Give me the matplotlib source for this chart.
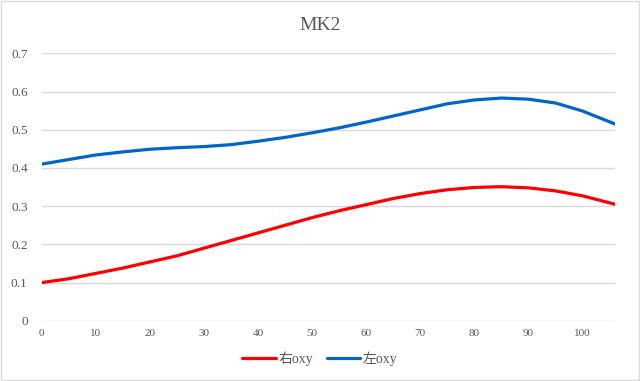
import matplotlib
matplotlib.use('Agg')
import matplotlib.pyplot as plt
from matplotlib.patches import Rectangle

# values
x = [0, 5, 10, 15, 20, 25, 30, 35, 40, 45, 50, 55, 60, 65, 70, 75, 80, 85, 90, 95, 100, 106]
right_oxy = [0.100, 0.110, 0.124, 0.138, 0.154, 0.170, 0.190, 0.210, 0.230, 0.250, 0.270,
             0.288, 0.304, 0.320, 0.333, 0.343, 0.349, 0.351, 0.348, 0.340, 0.327, 0.305]
left_oxy = [0.410, 0.422, 0.434, 0.442, 0.449, 0.453, 0.456, 0.461, 0.470, 0.480, 0.492,
            0.505, 0.520, 0.536, 0.552, 0.568, 0.578, 0.583, 0.580, 0.570, 0.549, 0.515]
labels = ['右oxy', '左oxy']
xticks = list(range(0, 101, 10))
yticks = [0, 0.1, 0.2, 0.3, 0.4, 0.5, 0.6, 0.7]

fam = ['Liberation Serif', 'Noto Sans CJK JP', 'DejaVu Sans']
plt.rcParams['font.family'] = fam
grey = '#595959'

fig = plt.figure(figsize=(6.4, 3.81), dpi=100)
ax = fig.add_axes([0.065, 0.158, 0.896, 0.702])

ax.plot(x, right_oxy, color='#ff0000', lw=2.3, label=labels[0], solid_capstyle='round')
ax.plot(x, left_oxy, color='#0066cc', lw=2.3, label=labels[1], solid_capstyle='round')

ax.set_xlim(0, 106)
ax.set_ylim(0, 0.7)
ax.set_xticks(xticks)
ax.set_yticks(yticks)
ax.set_yticklabels(['0' if v == 0 else f'{v:g}' for v in yticks])
ax.grid(axis='y', color='#d9d9d9', lw=1)
ax.set_axisbelow(True)
for s in ax.spines.values():
    s.set_visible(False)
ax.tick_params(length=0, colors=grey)
ax.tick_params(axis='y', labelsize=9.5, pad=10)
ax.tick_params(axis='x', labelsize=8, pad=6)

fig.text(0.5, 0.934, 'MK2', ha='center', va='center', fontsize=14, color=grey)

leg = ax.legend(loc='center', bbox_to_anchor=(0.5, 1 - 359 / 381), bbox_transform=fig.transFigure,
                ncol=2, frameon=False, fontsize=10, handlelength=2.4, handletextpad=0.2,
                columnspacing=1.0, labelcolor=grey)

fig.patches.append(Rectangle((0.002, 0.003), 0.996, 0.994, transform=fig.transFigure,
                             fill=False, edgecolor='#d9d9d9', lw=1))

fig.savefig('out.png', dpi=100, facecolor='white')
